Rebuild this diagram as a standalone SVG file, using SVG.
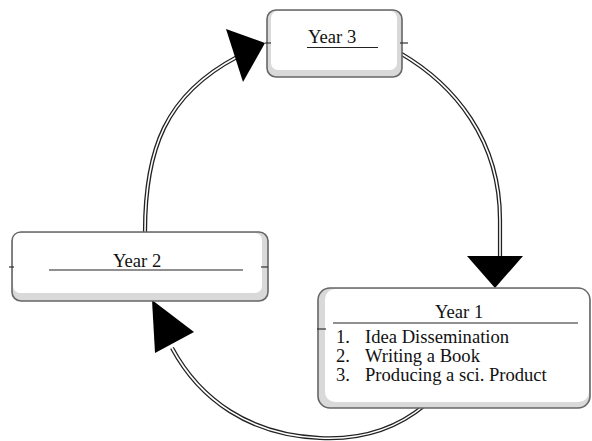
<svg xmlns="http://www.w3.org/2000/svg" width="592" height="441" viewBox="0 0 592 441">
<defs>
<style>
.outer{fill:#d9d9d9;stroke:#666;stroke-width:1.6}
.inner{fill:#fff;stroke:none}
.t{font-family:"Liberation Serif","Times New Roman",serif;font-size:18.6px;fill:#111}
.ul{stroke:#222;stroke-width:1.2}
.tick{stroke:#333;stroke-width:1.2}
.wire{fill:none;stroke:#222;stroke-width:4.2}
.wire2{fill:none;stroke:#fff;stroke-width:1.6}
.head{fill:#000}
</style>
</defs>
<rect width="592" height="441" fill="#fff"/>
<g id="connectors">
<path id="c1" class="wire" d="M400,53 C455,85 500,140 500,220 L500,257"/>
<path class="wire2" d="M400,53 C455,85 500,140 500,220 L500,257"/>
<polygon class="head" points="467,256 523,256 495,288"/>
<path id="c2" class="wire" d="M425,405 C395,430 360,440 320,438 C250,435 200,400 172,348"/>
<path class="wire2" d="M425,405 C395,430 360,440 320,438 C250,435 200,400 172,348"/>
<polygon class="head" points="152,300 155,353 194,332"/>
<path id="c3" class="wire" d="M145,232 C145,150 165,95 237,57"/>
<path class="wire2" d="M145,232 C145,150 165,95 237,57"/>
<polygon class="head" points="226,29 265,43 243,82"/>
</g>
<g id="year3">
<rect class="outer" x="267" y="10" width="135" height="67" rx="9"/>
<rect class="inner" x="271" y="11" width="126" height="59" rx="7"/>
<text class="t" x="308" y="43">Year 3</text>
<line class="ul" x1="307" y1="47.5" x2="378" y2="47.5"/>
<line class="tick" x1="265" y1="43" x2="271" y2="43"/>
<line class="tick" x1="400" y1="43" x2="408" y2="43"/>
</g>
<g id="year2">
<rect class="outer" x="12" y="232" width="256" height="69" rx="9"/>
<rect class="inner" x="13" y="233" width="249" height="60" rx="7"/>
<text class="t" x="113" y="267">Year 2</text>
<line class="ul" x1="49" y1="270" x2="243" y2="270"/>
<line class="tick" x1="9" y1="267" x2="14" y2="267"/>
<line class="tick" x1="261" y1="267" x2="268" y2="267"/>
</g>
<g id="year1">
<rect class="outer" x="318" y="288" width="272" height="120" rx="12"/>
<rect class="inner" x="325" y="289" width="264" height="113" rx="10"/>
<text class="t" x="435" y="318">Year 1</text>
<line class="ul" x1="333" y1="323" x2="578" y2="323"/>
<line class="tick" x1="317" y1="329" x2="326" y2="329"/>
<text class="t" x="336" y="343">1.</text>
<text class="t" x="365" y="343">Idea Dissemination</text>
<text class="t" x="336" y="362">2.</text>
<text class="t" x="365" y="362">Writing a Book</text>
<text class="t" x="336" y="381">3.</text>
<text class="t" x="365" y="381">Producing a sci. Product</text>
</g>
</svg>
